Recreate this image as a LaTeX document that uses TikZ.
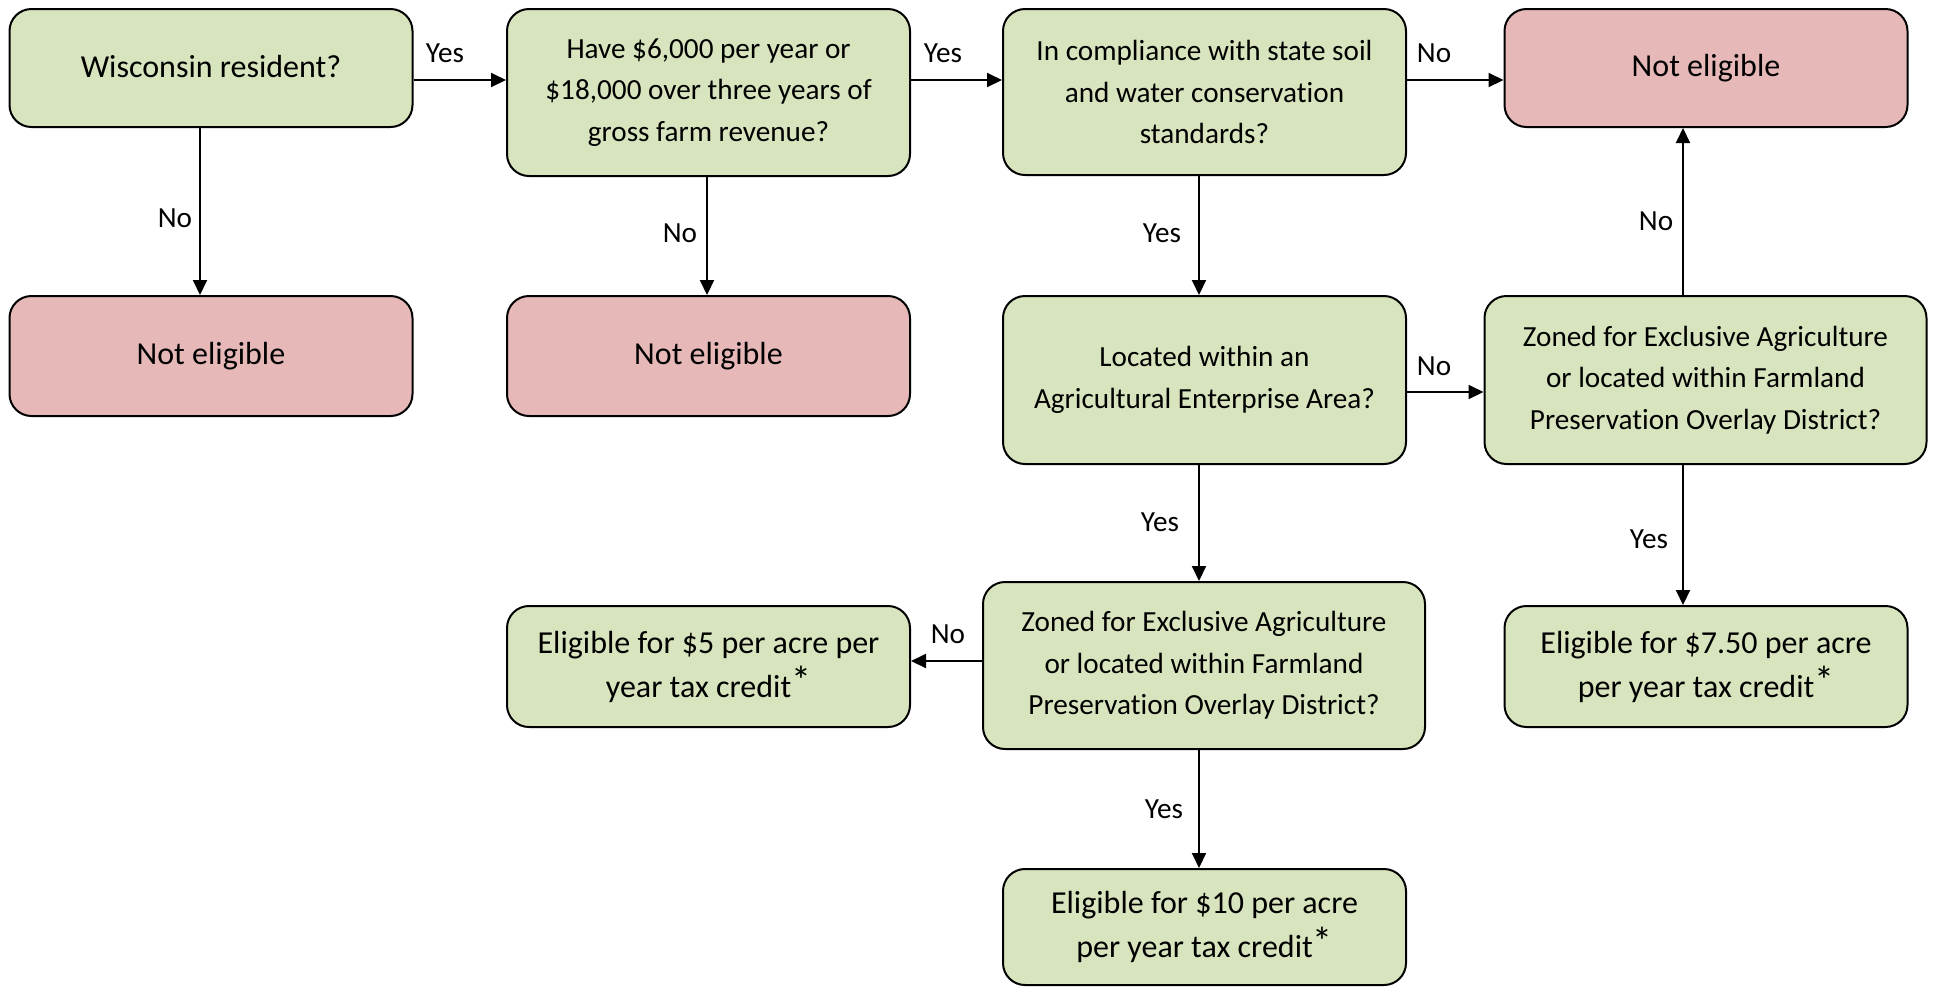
\documentclass[tikz,border=0pt]{standalone}
\usepackage{fontspec}
\setmainfont{Carlito}[Ligatures={NoCommon}]
\usetikzlibrary{arrows.meta}
\definecolor{boxgreen}{HTML}{D7E4BD}
\definecolor{boxred}{HTML}{E6B9B8}
\newcommand{\myast}{\raisebox{0.15ex}{\scalebox{1.25}{*}}}
\tikzset{
  base/.style={draw=black, line width=1pt, rounded corners=11pt, align=center, inner sep=0pt},
  gbox/.style={base, fill=boxgreen},
  rbox/.style={base, fill=boxred},
  big/.style={font=\fontsize{16}{22}\selectfont},
  small/.style={font=\fontsize{14.6}{20.75}\selectfont},
  stdw/.style={minimum width=201.5pt},
  widew/.style={minimum width=221pt},
  arr/.style={line width=1pt, -{Triangle[length=7.5pt,width=7pt]}},
  lbl/.style={font=\fontsize{14.6}{17}\selectfont, inner sep=0pt},
}
\begin{document}
\begin{tikzpicture}[x=0.5pt,y=-0.5pt]
\useasboundingbox (0,0) rectangle (1935,987);
% boxes
\node[gbox,big,stdw,minimum height=59pt] (b1) at (211,68) {\raisebox{1.5pt}{Wisconsin resident?}};
\node[gbox,small,stdw,minimum height=83.5pt] (b2) at (708.5,92.5) {Have \$6,000 per year or\\\$18,000 over three years of\\gross farm revenue?};
\node[gbox,small,stdw,minimum height=83pt] (b3) at (1204.5,92) {In compliance with state soil\\and water conservation\\standards?};
\node[rbox,big,stdw,minimum height=59pt] (ne3) at (1706,68) {Not eligible};
\node[rbox,big,stdw,minimum height=60pt] (ne1) at (211,356) {Not eligible};
\node[rbox,big,stdw,minimum height=60pt] (ne2) at (708.5,356) {Not eligible};
\node[gbox,small,stdw,minimum height=84pt] (b5) at (1204.5,380) {Located within an\\Agricultural Enterprise Area?};
\node[gbox,small,widew,minimum height=84pt] (b6) at (1705.5,380) {Zoned for Exclusive Agriculture\\or located within Farmland\\Preservation Overlay District?};
\node[gbox,small,widew,minimum height=83.5pt] (b7) at (1204,665.5) {Zoned for Exclusive Agriculture\\or located within Farmland\\Preservation Overlay District?};
\node[gbox,big,stdw,minimum height=60.5pt] (b8) at (708.5,666.5) {Eligible for \$5 per acre per\\year tax credit\myast};
\node[gbox,big,stdw,minimum height=60.5pt] (b9) at (1706,666.5) {Eligible for \$7.50 per acre\\per year tax credit\myast};
\node[gbox,big,stdw,minimum height=58pt] (b10) at (1204.5,927) {Eligible for \$10 per acre\\per year tax credit\myast};
% helper coordinates
\coordinate (r80) at (0,80);
\coordinate (r392) at (0,392);
\coordinate (r661) at (0,661);
\coordinate (c200) at (200,0);
\coordinate (c707) at (707,0);
\coordinate (c1199) at (1199,0);
\coordinate (c1683) at (1683,0);
% connectors
\draw[arr] (b1.east |- r80) -- (b2.west |- r80);
\draw[arr] (b2.east |- r80) -- (b3.west |- r80);
\draw[arr] (b3.east |- r80) -- (ne3.west |- r80);
\draw[arr] (b1.south -| c200) -- (ne1.north -| c200);
\draw[arr] (b2.south -| c707) -- (ne2.north -| c707);
\draw[arr] (b3.south -| c1199) -- (b5.north -| c1199);
\draw[arr] (b5.east |- r392) -- (b6.west |- r392);
\draw[arr] (b6.north -| c1683) -- (ne3.south -| c1683);
\draw[arr] (b6.south -| c1683) -- (b9.north -| c1683);
\draw[arr] (b5.south -| c1199) -- (b7.north -| c1199);
\draw[arr] (b7.west |- r661) -- (b8.east |- r661);
\draw[arr] (b7.south -| c1199) -- (b10.north -| c1199);
% labels
\node[lbl] (l1) at (445,53) {Yes};
\node[lbl] (l2) at (943,53) {Yes};
\node[lbl] (l3) at (1434,53) {No};
\node[lbl] (l4) at (175,218) {No};
\node[lbl] (l5) at (680,233) {No};
\node[lbl] (l6) at (1162,233) {Yes};
\node[lbl] (l7) at (1434,366) {No};
\node[lbl] (l8) at (1656,221) {No};
\node[lbl] (l9) at (1649,539) {Yes};
\node[lbl] (l10) at (1160,522) {Yes};
\node[lbl] (l11) at (948,634) {No};
\node[lbl] (l12) at (1164,809) {Yes};
\end{tikzpicture}
\end{document}
